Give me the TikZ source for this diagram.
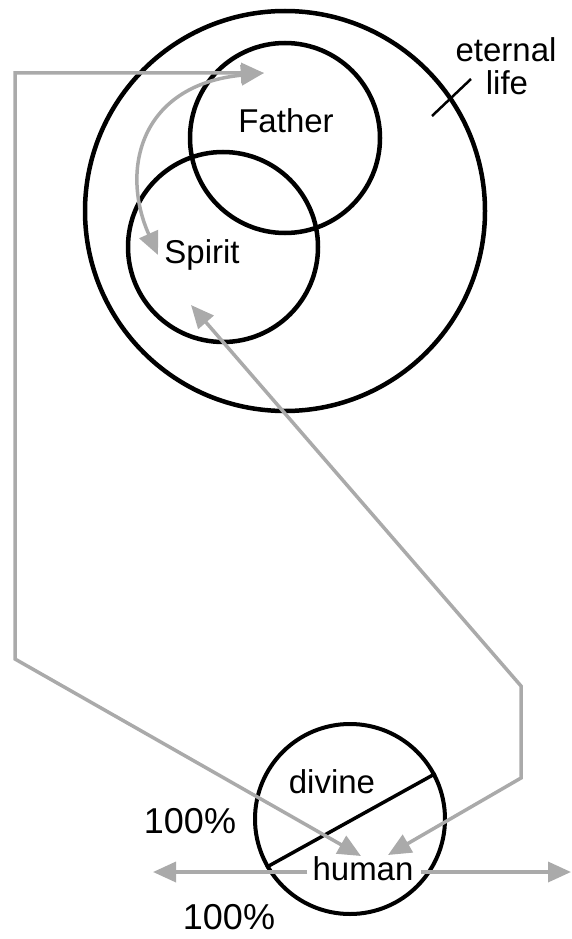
\documentclass[tikz,border=0pt]{standalone}
\usepackage{fontspec}
\setmainfont{Liberation Sans}
\usetikzlibrary{arrows.meta}
\definecolor{arrowgray}{HTML}{AAAAAA}
\begin{document}
\begin{tikzpicture}[x=1pt,y=-1pt,
  ring/.style={circle, draw=black, line width=4.5pt, inner sep=0pt},
  lbl/.style={inner sep=0pt, font=\fontsize{33}{40}\selectfont, anchor=base},
  pct/.style={inner sep=0pt, font=\fontsize{36}{43}\selectfont, anchor=base},
  grayline/.style={draw=arrowgray, line width=3.5pt},
  twoway/.style={grayline, {Triangle[length=23pt,width=20pt]}-{Triangle[length=23pt,width=20pt]}},
  oneway/.style={grayline, -{Triangle[length=23pt,width=20pt]}},
]
\useasboundingbox (0,0) rectangle (571,939);
% circles
\node[ring, minimum size=400pt] (eternalc) at (285,211) {};
\node[ring, minimum size=190pt] (fatherc) at (285,138) {};
\node[ring, minimum size=190pt] (spiritc) at (223,247) {};
\node[ring, line width=4pt, minimum size=190pt] (personc) at (350,819) {};
\draw[line width=3.5pt] (personc.210) -- (personc.28);
% labels
\node[lbl] (father) at (286,132) {Father};
\node[lbl] (spirit) at (202,263) {Spirit};
\node[lbl] (eternallbl) at (506,62) {eternal};
\node[lbl] (lifelbl) at (507,95) {life};
\node[lbl] (divine) at (332,793) {divine};
\node[lbl] (human) at (363,880) {human};
\node[pct] (pctA) at (190,833) {100\%};
\node[pct] (pctB) at (229,929) {100\%};
% tick
\coordinate (tickA) at (432,116);
\coordinate (tickB) at (471,79);
\draw[line width=2.5pt] (tickA) -- (tickB);
% gray connectors
\coordinate (fatherpt) at (264,73);
\coordinate (lcorner1) at (15,73);
\coordinate (lcorner2) at (15,659);
\coordinate (humanL) at (361,856);
\draw[twoway] (humanL) -- (lcorner2) -- (lcorner1) -- (fatherpt);
\coordinate (spiritpt) at (191,305);
\coordinate (rcorner1) at (521,686);
\coordinate (rcorner2) at (521,778);
\coordinate (humanR) at (388,855);
\draw[twoway] (spiritpt) -- (rcorner1) -- (rcorner2) -- (humanR);
\coordinate (spiritin) at (158,255);
\draw[twoway] (spiritin) .. controls (120,170) and (140,85) .. (fatherpt);
\coordinate (hl) at (153,872);
\coordinate (hr) at (571,872);
\draw[oneway] ([xshift=-5pt]human.west |- hl) -- (hl);
\draw[oneway] ([xshift=7pt]human.east |- hr) -- (hr);
\end{tikzpicture}
\end{document}
